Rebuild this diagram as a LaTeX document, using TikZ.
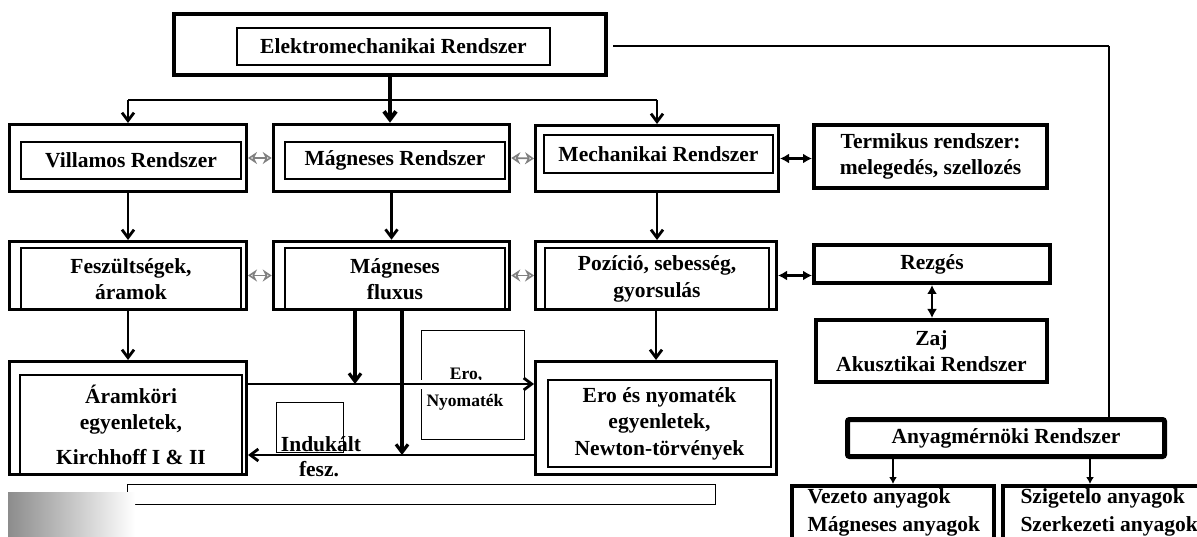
\documentclass[tikz,border=0pt]{standalone}
\usepackage{fontspec}
\setmainfont{Liberation Serif}
\usetikzlibrary{arrows.meta, calc}

\begin{document}
\begin{tikzpicture}[
      x=1pt, y=-1pt,
      font=\bfseries\fontsize{21.5}{26.5}\selectfont,
      outer/.style={rectangle, draw, line width=3pt, inner sep=0pt},
      inner/.style={rectangle, draw, line width=1.2pt, inner sep=0pt, align=center},
      sysbox/.style={rectangle, draw, line width=4pt, inner sep=0pt, align=center},
      thinbox/.style={rectangle, draw, line width=1pt, inner sep=0pt},
      small/.style={font=\bfseries\fontsize{17.5}{21}\selectfont},
      arrow/.style={-{Straight Barb[length=8pt,width=12pt]}, line width=2.8pt},
      linkarrow/.style={{Stealth[open,length=9pt,width=12pt]}-{Stealth[open,length=9pt,width=12pt]}, draw=black!50, line width=1.8pt},
      dblarrow/.style={{Latex[length=9pt,width=10pt]}-{Latex[length=9pt,width=10pt]}, line width=2.6pt}
  ]
  \useasboundingbox (0,0) rectangle (1197,537);
  \fill[white] (0,0) rectangle (1197,537);
  \clip (0,0) rectangle (1197,537);

  % Top level
  \node[outer, line width=4pt, minimum width=432pt, minimum height=61pt] (topO) at (390,44.5) {};
  \node[inner, minimum width=313pt, minimum height=37pt] (top) at (393.5,46.5) {Elektromechanikai Rendszer};

  % Row 1
  \node[outer, minimum width=237pt, minimum height=67pt] (villO) at (128,158) {};
  \node[inner, minimum width=220pt, minimum height=37pt] (vill) at (131,160.5) {Villamos Rendszer};
  \node[outer, line width=3.6pt, minimum width=236pt, minimum height=67pt] (magO) at (391.5,158) {};
  \node[inner, minimum width=220pt, minimum height=37pt] (mag) at (395,160.5) {Mágneses Rendszer};
  \node[outer, minimum width=243pt, minimum height=66pt] (mechO) at (657,158.5) {};
  \node[inner, minimum width=229pt, minimum height=38pt] (mech) at (658.5,154) {Mechanikai Rendszer};
  \node[sysbox, minimum width=233pt, minimum height=63pt] (termik) at (930.5,156.5) {Termikus rendszer:\\melegedés, szellozés};

  % Row 2
  \node[outer, minimum width=237pt, minimum height=68pt] (feszO) at (128,275.5) {};
  \node[inner, minimum width=220pt, minimum height=62pt] (fesz) at (131,279) {Feszültségek,\\áramok};
  \node[outer, line width=3.6pt, minimum width=236pt, minimum height=68pt] (fluxO) at (391.5,275.5) {};
  \node[inner, minimum width=220pt, minimum height=62pt] (flux) at (395,279) {Mágneses\\fluxus};
  \node[outer, minimum width=241pt, minimum height=68pt] (pozO) at (656,275.5) {};
  \node[inner, minimum width=224pt, minimum height=62pt] (poz) at (657,279) {Pozíció, sebesség,\\gyorsulás};
  \node[sysbox, minimum width=236pt, minimum height=38pt] (rezges) at (932,264) {Rezgés};
  \node[sysbox, minimum width=231pt, minimum height=62pt] (zaj) at (931.5,351) {Zaj\\Akusztikai Rendszer};

  % Row 3
  \node[outer, minimum width=237pt, minimum height=113pt] (aramO) at (128,418) {};
  \node[inner, minimum width=222pt, minimum height=99pt] (aram) at (131,424.5) {Áramköri\\egyenletek,\\[8pt]Kirchhoff I \& II};
  \node[outer, minimum width=241pt, minimum height=113pt] (eroO) at (656,418) {};
  \node[inner, minimum width=223pt, minimum height=87pt] (ero) at (659.5,423.5) {Ero és nyomaték\\egyenletek,\\Newton-törvények};

  % Labels
  \node[thinbox, minimum width=103pt, minimum height=108pt] (nyomB) at (472.5,385) {};
  \node[small, anchor=base] (eroLbl) at (466,379) {Ero,};
  \node[small, anchor=base] (nyomLbl) at (465,406) {Nyomaték};
  \node[thinbox, minimum width=67pt, minimum height=50pt] (indB) at (309.5,427) {};
  \node[anchor=base] (indLbl) at (321,451) {Indukált};
  \node[anchor=base] (feszLbl) at (319,476) {fesz.};
  \node[thinbox, minimum width=588pt, minimum height=20pt] (bar) at (421,494) {};
  \shade[left color=black!45, right color=white] (8,492) rectangle (135,537);

  % Materials
  \node[sysbox, line width=5pt, rounded corners=2pt, minimum width=317pt, minimum height=37pt] (anyag) at (1006,438) {Anyagmérnöki Rendszer};
  \node[sysbox, anchor=north, minimum width=202pt, minimum height=80pt] (vezB) at (893,484) {};
  \node[sysbox, anchor=north, minimum width=201pt, minimum height=80pt] (szigB) at (1103,484) {};
  \node[anchor=base west] (vezT) at (804,503) {Vezeto anyagok};
  \node[anchor=base west] (magT) at (804,531) {Mágneses anyagok};
  \node[anchor=base west] (szigT) at (1017,503) {Szigetelo anyagok};
  \node[anchor=base west] (szerkT) at (1017,531) {Szerkezeti anyagok};

  % Arrows
  \coordinate (bus) at (388,100);
  \draw[arrow, line width=4pt] (topO.south) -- (topO.south |- magO.north);
  \draw[line width=2.8pt] (villO.north |- bus) -- (mechO.north |- bus);
  \draw[arrow] (villO.north |- bus) -- (villO.north);
  \draw[arrow] (mechO.north |- bus) -- (mechO.north);
  \draw[arrow] (villO.south) -- (feszO.north);
  \draw[arrow] (magO.south) -- (fluxO.north);
  \draw[arrow] (mechO.south) -- (mechO.south |- pozO.north);
  \draw[arrow] (feszO.south) -- (aramO.north);
  \draw[arrow] (pozO.south) -- (eroO.north);

  \coordinate (fA) at (355,384);
  \coordinate (fB) at (402,455);
  \draw[white, line width=9pt] (nyomB.west |- fA) -- (nyomB.east |- fA);
  \draw[arrow] (aramO.east |- fA) -- (eroO.west |- fA);
  \draw[arrow, line width=3.2pt] (fA |- fluxO.south) -- (fA);
  \draw[arrow] (eroO.west |- fB) -- (aramO.east |- fB);
  \draw[arrow, line width=3.2pt] (fB |- fluxO.south) -- (fB);

  \draw[linkarrow] (villO.east) -- (magO.west);
  \draw[linkarrow] (magO.east) -- (mechO.west);
  \draw[linkarrow] (feszO.east) -- (fluxO.west);
  \draw[linkarrow] (fluxO.east) -- (pozO.west);
  \draw[dblarrow] (mechO.east) -- (mechO.east -| termik.west);
  \draw[dblarrow] (pozO.east) -- (pozO.east -| rezges.west);
  \draw[dblarrow] (rezges.south) -- (rezges.south |- zaj.north);

  \coordinate (corner) at (1109,46);
  \draw[line width=2.5pt, shorten <=5pt] (topO.east |- corner) -- (corner);
  \draw[line width=1.2pt] (corner) -- (corner |- anyag.north);
  \coordinate (szTop) at ($(anyag.south)+(84,0)$);
  \draw[-{Latex[length=7pt,width=8pt]}, line width=2pt] (vezB.north |- anyag.south) -- (vezB.north);
  \draw[-{Latex[length=7pt,width=8pt]}, line width=2pt] (szTop) -- (szTop |- szigB.north);

\end{tikzpicture}
\end{document}
